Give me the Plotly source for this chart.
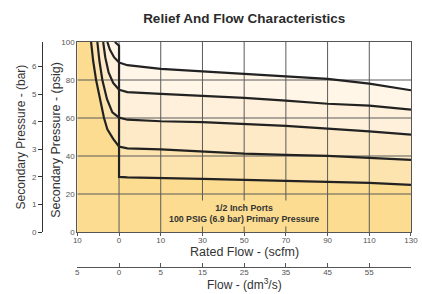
import numpy as np
import plotly.graph_objects as go

# ---------------- data ----------------
FLOW_TICK_VALS = [-10, 0, 10, 30, 50, 70, 90, 110, 130]   # scfm (negative = relief flow)
FLOW_TICK_TEXT = ["10", "0", "10", "30", "50", "70", "90", "110", "130"]
DM3S_TICK_TEXT = ["5", "0", "5", "15", "25", "35", "45", "55"]
PSIG_TICKS = [0, 20, 40, 60, 80, 100]
BAR_TICKS = [0, 1, 2, 3, 4, 5, 6]
PSI_PER_BAR = 14.5038

# forward flow curves (scfm, psig)
FLOW_SCFM = [0, 2, 10, 30, 50, 70, 90, 110, 130]
FLOW_PSIG_1 = [89.2, 87.8, 85.9, 84.6, 83.4, 82.0, 80.6, 78.1, 74.6]
FLOW_PSIG_2 = [74.9, 73.6, 72.7, 71.8, 70.6, 69.1, 67.5, 66.5, 64.4]
FLOW_PSIG_3 = [60.2, 59.1, 58.3, 57.8, 56.7, 55.9, 54.4, 53.0, 51.2]
FLOW_PSIG_4 = [44.9, 44.0, 43.5, 42.2, 41.2, 40.6, 40.1, 39.0, 38.0]
FLOW_PSIG_5 = [29.0, 28.7, 28.5, 28.0, 27.4, 26.9, 26.6, 25.9, 24.8]

# relief curves (scfm, psig)
RELIEF_SCFM_1 = [-1.0, -0.4, 0]
RELIEF_PSIG_1 = [100, 99, 98]
RELIEF_SCFM_2 = [-2.8, -2.2, -1.2, 0]
RELIEF_PSIG_2 = [100, 96, 92, 89.2]
RELIEF_SCFM_3 = [-3.8, -3.3, -2.5, -1.4, 0]
RELIEF_PSIG_3 = [100, 92, 84, 78.5, 74.9]
RELIEF_SCFM_4 = [-5.2, -4.7, -4.0, -2.9, -1.6, 0]
RELIEF_PSIG_4 = [100, 90, 80, 70, 63, 60.2]
RELIEF_SCFM_5 = [-6.7, -6.2, -5.5, -4.6, -3.6, -2.8, -1.4, 0]
RELIEF_PSIG_5 = [100, 90, 80, 70, 60, 54, 49, 44.9]

BAND_COLORS = ["#FFF6E8", "#FEF0DA", "#FEEAC6", "#FDE3AE", "#FCDC90"]
LINE_COLOR = "#222222"
GRID_COLOR = "#5a5a5a"

curves = [
    (RELIEF_SCFM_1, RELIEF_PSIG_1, FLOW_PSIG_1),
    (RELIEF_SCFM_2, RELIEF_PSIG_2, FLOW_PSIG_2),
    (RELIEF_SCFM_3, RELIEF_PSIG_3, FLOW_PSIG_3),
    (RELIEF_SCFM_4, RELIEF_PSIG_4, FLOW_PSIG_4),
    (RELIEF_SCFM_5, RELIEF_PSIG_5, FLOW_PSIG_5),
]


def pos(v):
    """Map scfm values to the chart's segmented flow scale."""
    return np.interp(v, FLOW_TICK_VALS, np.arange(len(FLOW_TICK_VALS)))


fig = go.Figure()

# filled bands (top curve first, each lower one painted over it)
for (rx, ry, fy), col in zip(curves, BAND_COLORS):
    xs = list(rx) + FLOW_SCFM + [FLOW_TICK_VALS[-1], FLOW_TICK_VALS[0], FLOW_TICK_VALS[0]]
    ys = list(ry) + fy + [0, 0, 100]
    fig.add_trace(go.Scatter(x=pos(xs), y=ys, fill="toself", fillcolor=col,
                             mode="lines", line=dict(width=0), hoverinfo="skip",
                             showlegend=False))

# grid lines drawn over the fills
gx, gy = [], []
for p in range(1, len(FLOW_TICK_VALS) - 1):
    gx += [p, p, None]
    gy += [0, 100, None]
for v in PSIG_TICKS[1:-1]:
    gx += [0, len(FLOW_TICK_VALS) - 1, None]
    gy += [v, v, None]
fig.add_trace(go.Scatter(x=gx, y=gy, mode="lines", line=dict(color=GRID_COLOR, width=1),
                         hoverinfo="skip", showlegend=False))

# curve lines
for rx, ry, fy in curves:
    xs = list(rx) + FLOW_SCFM
    ys = list(ry) + fy
    fig.add_trace(go.Scatter(x=pos(xs), y=ys, mode="lines",
                             line=dict(color=LINE_COLOR, width=2.2),
                             hoverinfo="skip", showlegend=False))

# helper traces so the secondary axes are rendered
fig.add_trace(go.Scatter(x=[0], y=[0], xaxis="x2", yaxis="y", mode="markers",
                         marker=dict(opacity=0), hoverinfo="skip", showlegend=False))
fig.add_trace(go.Scatter(x=[0], y=[0], xaxis="x", yaxis="y2", mode="markers",
                         marker=dict(opacity=0), hoverinfo="skip", showlegend=False))

W, H = 422, 294
ML, MR, MT, MB = 42, 4, 42, 27
PW, PH = W - ML - MR, H - MT - MB


def px(x):
    return (x - ML) / PW


def py(y):
    return (H - MB - y) / PH


FONT = "Liberation Sans, Arial, sans-serif"
TICKFONT = dict(family=FONT, size=8, color="#555")

fig.update_layout(
    width=W, height=H,
    margin=dict(l=ML, r=MR, t=MT, b=MB),
    paper_bgcolor="white", plot_bgcolor="white",
    font=dict(family=FONT, color="#333"),
    title=dict(text="<b>Relief And Flow Characteristics</b>",
               x=px(248), xref="paper", xanchor="center",
               y=1 - 18 / H, yref="container", yanchor="middle",
               font=dict(family=FONT, size=13.5, color="#2b2b2b")),
    xaxis=dict(domain=[px(78), 1], range=[0, len(FLOW_TICK_VALS) - 1],
               tickvals=list(range(len(FLOW_TICK_VALS))), ticktext=FLOW_TICK_TEXT,
               ticks="outside", ticklen=3, tickcolor="#555",
               ticklabelstandoff=-3, ticklabeloverflow="allow",
               showline=True, mirror=True, linecolor="#555", linewidth=1,
               showgrid=False, zeroline=False, tickfont=TICKFONT, anchor="y"),
    yaxis=dict(domain=[py(232), 1], range=[0, 100], tickvals=PSIG_TICKS,
               ticks="", showline=True, mirror=True, linecolor="#555", linewidth=1,
               showgrid=False, zeroline=False, tickfont=TICKFONT, anchor="x"),
    xaxis2=dict(overlaying="x", anchor="free", position=0, side="bottom",
                range=[0, len(FLOW_TICK_VALS) - 1],
                tickvals=list(range(len(DM3S_TICK_TEXT))), ticktext=DM3S_TICK_TEXT,
                ticks="inside", ticklen=4, tickcolor="#555",
                ticklabelstandoff=-3,
                showline=True, linecolor="#555", linewidth=1,
                showgrid=False, zeroline=False, tickfont=TICKFONT),
    yaxis2=dict(overlaying="y", anchor="free", position=0, side="left",
                range=[0, 100 / PSI_PER_BAR], tickvals=BAR_TICKS,
                ticks="outside", ticklen=4, tickcolor="#333",
                showline=True, linecolor="#333", linewidth=1,
                showgrid=False, zeroline=False, tickfont=TICKFONT),
)

ann = [
    dict(text="Rated Flow - (scfm)", x=px(248), y=py(252), size=12.5),
    dict(text="Flow - (dm<sup>3</sup>/s)", x=px(248), y=py(284), size=12),
    dict(text="Secondary Pressure - (psig)", x=px(56), y=py(140), textangle=-90, size=12.5),
    dict(text="Secondary Pressure - (bar)", x=px(21), y=py(137), textangle=-90, size=12),
]
for a in ann:
    size = a.pop("size")
    fig.add_annotation(xref="paper", yref="paper", showarrow=False,
                       xanchor="center", yanchor="middle",
                       font=dict(family=FONT, size=size, color="#333"), **a)

fig.add_annotation(xref="paper", yref="paper", x=px(248), y=py(213),
                   text="<b>1/2 Inch Ports<br>100 PSIG (6.9 bar) Primary Pressure</b>",
                   showarrow=False, xanchor="center", yanchor="middle",
                   bgcolor=BAND_COLORS[-1], borderpad=2,
                   font=dict(family=FONT, size=8.8, color="#333"))

fig.write_html("out.html", config={"displayModeBar": False},
               post_script="document.body.style.margin='0';")
